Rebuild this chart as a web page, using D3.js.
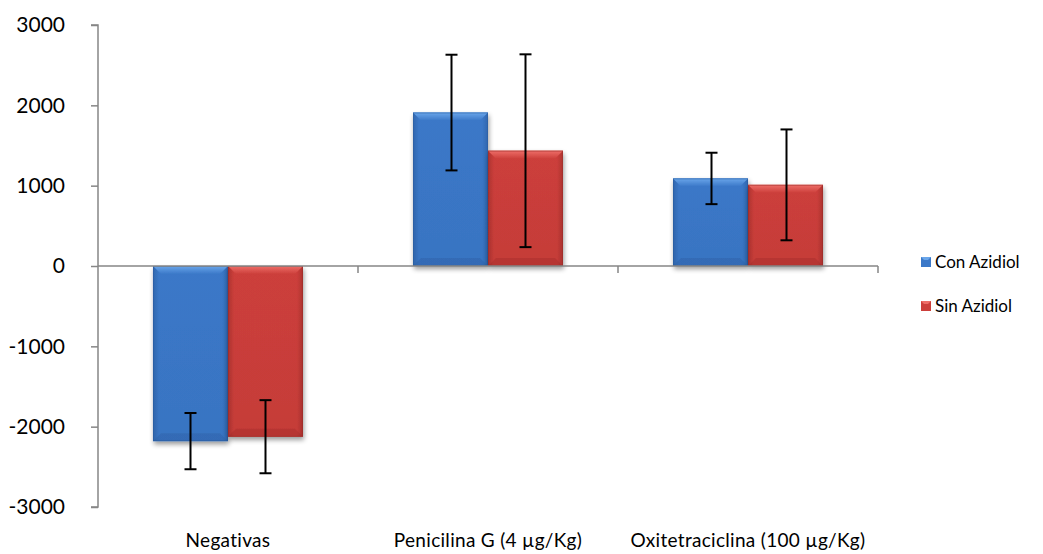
<!DOCTYPE html>
<html><head><meta charset="utf-8">
<script src="https://cdn.jsdelivr.net/npm/d3@7"></script>
<style>
html,body{margin:0;padding:0;background:#fff;}
text{font-family:"Lato","Open Sans",sans-serif;fill:#000;}
</style></head>
<body>
<svg id="chart" width="1043" height="554"></svg>
<script>
const categories = ["Negativas", "Penicilina G (4 µg/Kg)", "Oxitetraciclina (100 µg/Kg)"];
const seriesNames = ["Con Azidiol", "Sin Azidiol"];
const conAzidiol = [-2180, 1910, 1090];
const sinAzidiol = [-2125, 1435, 1010];
const conError = [350, 720, 320];
const sinError = [455, 1200, 690];
const yTicks = [-3000, -2000, -1000, 0, 1000, 2000, 3000];

const svg = d3.select("#chart");
const margin = {left: 98, right: 165, top: 25, bottom: 47};
const W = 1043, H = 554;

const x = d3.scaleBand().domain(categories).range([margin.left, W - margin.right]).paddingInner(0.4231).paddingOuter(0.2115);
const x0 = d3.scaleBand().domain(categories).range([margin.left, W - margin.right]).padding(0);
const xs = d3.scaleBand().domain(seriesNames).range([0, x.bandwidth()]).padding(0);
const y = d3.scaleLinear().domain([-3000, 3000]).range([H - margin.bottom, margin.top]);

const colors = {
  "Con Azidiol": {base: "#3b78c8", light: "#6aa6ea", dark: "#2a5c9e"},
  "Sin Azidiol": {base: "#cc3f3b", light: "#ee6e68", dark: "#9a2c29"}
};

const defs = svg.append("defs");
const f = defs.append("filter").attr("id", "shadow").attr("x", "-20%").attr("y", "-20%").attr("width", "140%").attr("height", "140%");
f.append("feGaussianBlur").attr("in", "SourceAlpha").attr("stdDeviation", 2.5).attr("result", "b");
f.append("feOffset").attr("in", "b").attr("dx", 1).attr("dy", 3).attr("result", "o");
f.append("feComponentTransfer").attr("in", "o").attr("result", "o2").append("feFuncA").attr("type", "linear").attr("slope", 0.4);
const fm = f.append("feMerge");
fm.append("feMergeNode").attr("in", "o2");
fm.append("feMergeNode").attr("in", "SourceGraphic");

seriesNames.forEach((s, i) => {
  const c = colors[s];
  const gh = defs.append("linearGradient").attr("id", "gh" + i).attr("x1", 0).attr("x2", 1).attr("y1", 0).attr("y2", 0);
  gh.append("stop").attr("offset", "0%").attr("stop-color", c.dark);
  gh.append("stop").attr("offset", "8%").attr("stop-color", c.base);
  gh.append("stop").attr("offset", "92%").attr("stop-color", c.base);
  gh.append("stop").attr("offset", "100%").attr("stop-color", c.dark);
  const gv = defs.append("linearGradient").attr("id", "gv" + i).attr("x1", 0).attr("x2", 0).attr("y1", 0).attr("y2", 1);
  gv.append("stop").attr("offset", "0%").attr("stop-color", c.light);
  gv.append("stop").attr("offset", "100%").attr("stop-color", c.base);
  const gm = defs.append("linearGradient").attr("id", "gm" + i).attr("x1", 0).attr("x2", 0).attr("y1", 0).attr("y2", 1);
  gm.append("stop").attr("offset", "0%").attr("stop-color", c.base);
  gm.append("stop").attr("offset", "100%").attr("stop-color", d3.interpolateRgb(c.base, c.dark)(0.35));
});

const data = [];
categories.forEach((cat, ci) => {
  data.push({cat, s: 0, name: seriesNames[0], v: conAzidiol[ci], e: conError[ci]});
  data.push({cat, s: 1, name: seriesNames[1], v: sinAzidiol[ci], e: sinError[ci]});
});

// bars
const bars = svg.append("g");
data.forEach(d => {
  const bx = x(d.cat) + xs(d.name), bw = xs.bandwidth();
  const top = Math.min(y(d.v), y(0)), h = Math.abs(y(d.v) - y(0));
  const g = bars.append("g").attr("filter", "url(#shadow)");
  g.append("rect").attr("x", bx).attr("y", top).attr("width", bw).attr("height", h).attr("fill", `url(#gm${d.s})`);
  g.append("rect").attr("x", bx).attr("y", top).attr("width", bw).attr("height", h).attr("fill", `url(#gh${d.s})`).attr("opacity", 0.6);
  const bev = 8;
  g.append("polygon").attr("points", [[bx, top], [bx + bw, top], [bx + bw - bev, top + bev], [bx + bev, top + bev]].join(" "))
    .attr("fill", `url(#gv${d.s})`);
  g.append("polygon").attr("points", [[bx, top + h], [bx + bw, top + h], [bx + bw - bev, top + h - bev], [bx + bev, top + h - bev]].join(" "))
    .attr("fill", colors[d.name].dark).attr("opacity", 0.35);
  g.append("rect").attr("x", bx + 0.5).attr("y", top + 0.5).attr("width", bw - 1).attr("height", h - 1)
    .attr("fill", "none").attr("stroke", colors[d.name].dark).attr("stroke-opacity", 0.5);
});

// axes
const gy = svg.append("g").attr("transform", `translate(${margin.left},0)`)
  .call(d3.axisLeft(y).tickValues(yTicks).tickSize(7).tickPadding(26).tickFormat(d => String(d)));
gy.select(".domain").attr("stroke", "#868686").attr("stroke-width", 1.5).attr("d", `M-7,${y(3000)}H0V${y(-3000)}H-7`);
gy.selectAll(".tick line").attr("stroke", "#868686").attr("stroke-width", 1.5);
gy.selectAll(".tick text").style("font-size", "21px").attr("fill", "#000").style("font-family", "Lato, 'Open Sans', sans-serif");

const gx = svg.append("g").attr("transform", `translate(0,${y(0)})`);
gx.append("line").attr("x1", margin.left).attr("x2", W - margin.right).attr("y1", 0).attr("y2", 0).attr("stroke", "#868686").attr("stroke-width", 1.5);
categories.forEach(c => {
  const xe = x0(c) + x0.bandwidth();
  gx.append("line").attr("x1", xe).attr("x2", xe).attr("y1", 0).attr("y2", 7).attr("stroke", "#868686").attr("stroke-width", 1.5);
});
svg.append("g").selectAll("text").data(categories).join("text")
  .attr("x", d => x(d) + x.bandwidth() / 2).attr("y", 547)
  .attr("text-anchor", "middle").style("font-size", "19px").style("letter-spacing", "0.3px").text(d => d);

// error bars
const eg = svg.append("g").attr("stroke", "#000").attr("stroke-width", 2);
data.forEach(d => {
  const cx = Math.round(x(d.cat) + xs(d.name) + xs.bandwidth() / 2) + 0.5;
  const y1 = y(d.v + d.e), y2 = y(d.v - d.e);
  eg.append("line").attr("x1", cx).attr("x2", cx).attr("y1", y1).attr("y2", y2);
  eg.append("line").attr("x1", cx - 6).attr("x2", cx + 6).attr("y1", y1).attr("y2", y1);
  eg.append("line").attr("x1", cx - 6).attr("x2", cx + 6).attr("y1", y2).attr("y2", y2);
});

// legend
const lg = svg.append("g");
seriesNames.forEach((s, i) => {
  const ly = 262 + i * 44;
  const c = colors[s];
  lg.append("rect").attr("x", 921).attr("y", ly - 5).attr("width", 10).attr("height", 10).attr("fill", c.base);
  lg.append("polygon").attr("points", [[921, ly - 5], [931, ly - 5], [928, ly - 2], [924, ly - 2]].join(" ")).attr("fill", c.light);
  lg.append("text").attr("x", 935).attr("y", ly + 6).style("font-size", "17px").text(s);
});
</script>
</body></html>
